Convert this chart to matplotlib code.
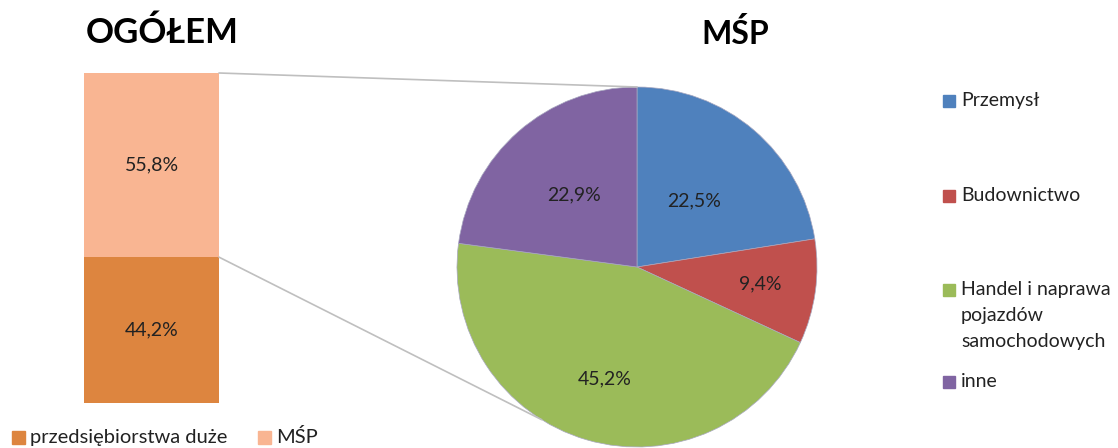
import numpy as np
import matplotlib
matplotlib.use("Agg")
import matplotlib.pyplot as plt
from matplotlib.patches import Rectangle, ConnectionPatch

plt.rcParams['font.family'] = ['Lato', 'DejaVu Sans']

# Data
bar_labels = ["przedsiębiorstwa duże", "MŚP"]
bar_values = [44.2, 55.8]
bar_colors = ["#DD853F", "#F9B592"]

pie_labels = ["Przemysł", "Budownictwo", "Handel i naprawa\npojazdów\nsamochodowych", "inne"]
pie_values = [22.5, 9.4, 45.2, 22.9]
pie_colors = ["#4F81BD", "#C0504D", "#9BBB59", "#8064A2"]

W, H = 1118, 448
fig = plt.figure(figsize=(W / 100, H / 100), dpi=100)

def fx(px):
    return px / W

def fy(py):
    return 1 - py / H

FS = 14

# Stacked bar
axb = fig.add_axes([fx(84), fy(403), fx(219) - fx(84), fy(73) - fy(403)])
bottom = 0
for lab, v, c in zip(bar_labels, bar_values, bar_colors):
    axb.bar(0, v, bottom=bottom, width=1.0, color=c, linewidth=0)
    axb.text(0, bottom + v / 2, f"{v:.1f}%".replace(".", ","), ha="center", va="center",
             fontsize=FS, color="#222222")
    bottom += v
axb.set_xlim(-0.5, 0.5)
axb.set_ylim(0, 100)
axb.axis("off")

# Pie
r_px = 180
cx, cy = 637, 267
axp = fig.add_axes([fx(cx - r_px), fy(cy + r_px), 2 * r_px / W, 2 * r_px / H])
wedges, _ = axp.pie(pie_values, colors=pie_colors, startangle=90, counterclock=False,
                    radius=1.0, wedgeprops=dict(linewidth=0.5, edgecolor="#a8a8c0"))
axp.set_xlim(-1, 1)
axp.set_ylim(-1, 1)
axp.set_aspect("equal")
axp.axis("off")
for w in wedges:
    w.set_clip_on(False)

label_dist = [0.485, 0.69, 0.65, 0.53]
total = sum(pie_values)
cum = 0
for v, d in zip(pie_values, label_dist):
    mid = 90 - (cum + v / 2) / total * 360
    a = np.deg2rad(mid)
    axp.text(d * np.cos(a), d * np.sin(a), f"{v:.1f}%".replace(".", ","),
             ha="center", va="center", fontsize=FS, color="#222222")
    cum += v

# Connector lines
c1 = ConnectionPatch(xyA=(0.5, 100), coordsA=axb.transData,
                     xyB=(0, 1.0), coordsB=axp.transData,
                     color="#BFBFBF", linewidth=1.2)
fig.add_artist(c1)
ang = np.deg2rad(-122)
c2 = ConnectionPatch(xyA=(0.5, bar_values[0]), coordsA=axb.transData,
                     xyB=(np.cos(ang), np.sin(ang)), coordsB=axp.transData,
                     color="#BFBFBF", linewidth=1.2)
fig.add_artist(c2)

# Titles
fig.text(fx(162), fy(33), "OGÓŁEM", ha="center", va="center", fontsize=25,
         fontweight="bold", color="#000000")
fig.text(fx(735), fy(33), "MŚP", ha="center", va="center", fontsize=23,
         fontweight="bold", color="#000000")

# Right legend
leg_y = [101, 196, 290, 382]
for lab, c, y in zip(pie_labels, pie_colors, leg_y):
    fig.add_artist(Rectangle((fx(943), fy(y + 6)), 12 / W, 12 / H, color=c,
                             transform=fig.transFigure))
    fig.text(fx(961), fy(y - 9), lab, ha="left", va="top", fontsize=FS,
             color="#222222", linespacing=1.65)

# Bottom legend
leg_x = [12, 258]
for lab, c, x in zip(bar_labels, bar_colors, leg_x):
    fig.add_artist(Rectangle((fx(x), fy(444)), 13 / W, 13 / H, color=c,
                             transform=fig.transFigure))
    fig.text(fx(x + 18), fy(437), lab, ha="left", va="center", fontsize=FS + 0.5,
             color="#222222")

fig.savefig("out.png", dpi=100)
